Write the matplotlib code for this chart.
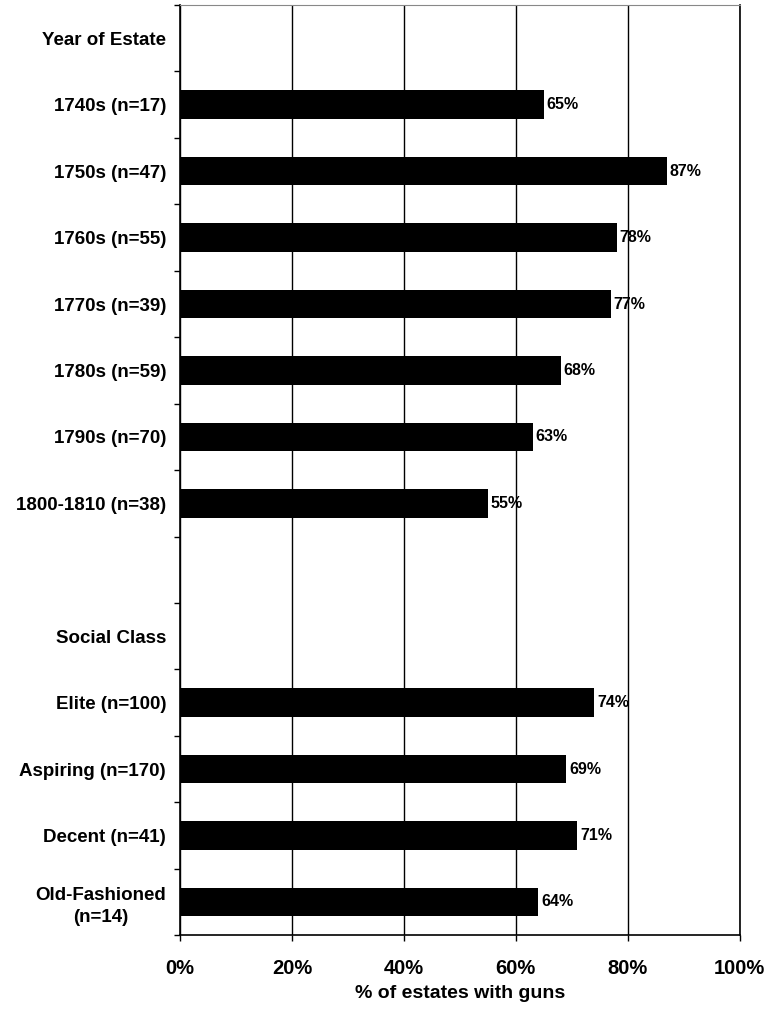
import matplotlib
matplotlib.use("Agg")
from matplotlib import pyplot as plt
import numpy as np

plt.rcParams["font.family"] = ["Liberation Sans", "DejaVu Sans"]
plt.rcParams["font.weight"] = "bold"

# rows top to bottom; None = no bar (header or spacer)
row_labels = ["Year of Estate", "1740s (n=17)", "1750s (n=47)", "1760s (n=55)",
              "1770s (n=39)", "1780s (n=59)", "1790s (n=70)", "1800-1810 (n=38)",
              "", "Social Class", "Elite (n=100)", "Aspiring (n=170)",
              "Decent (n=41)", "Old-Fashioned\n(n=14)"]
pct_values = [None, 65, 87, 78, 77, 68, 63, 55,
              None, None, 74, 69, 71, 64]
x_ticks = [0, 20, 40, 60, 80, 100]

fig = plt.figure(figsize=(7.69, 10.11), dpi=100)
ax = fig.add_axes([0.234, 0.075, 0.728, 0.92])

n = len(row_labels)
ypos = np.arange(n)
for y, v in zip(ypos, pct_values):
    if v is None:
        continue
    ax.barh(y, v, height=0.43, color="black", zorder=3)
    ax.text(v + 0.5, y, f"{v}%", va="center", ha="left",
            fontsize=11.5, fontweight="bold", zorder=4)

ax.set_ylim(n - 0.5, -0.5)
ax.set_xlim(0, 100)

# category labels centred on rows, ticks on row boundaries
ax.set_yticks(ypos)
ax.set_yticklabels(row_labels, fontsize=13.5, fontweight="bold", ha="right",
                   multialignment="center", linespacing=1.4)
ax.tick_params(axis="y", which="major", length=0, pad=10)
ax.set_yticks(np.arange(-0.5, n, 1), minor=True)
ax.tick_params(axis="y", which="minor", length=4, width=1, direction="out")

ax.set_xticks(x_ticks)
ax.set_xticklabels([f"{t}%" for t in x_ticks], fontsize=14.5, fontweight="bold")
ax.tick_params(axis="x", length=4, width=1, pad=13)
ax.set_xlabel("% of estates with guns", fontsize=14, fontweight="bold", labelpad=5)

ax.grid(axis="x", color="black", linewidth=1, zorder=0)
ax.set_axisbelow(True)

for side in ["left", "bottom", "right"]:
    ax.spines[side].set_linewidth(1.2)
    ax.spines[side].set_color("black")
ax.spines["top"].set_color("#888888")
ax.spines["top"].set_linewidth(0.8)

fig.savefig("out.png", dpi=100)
